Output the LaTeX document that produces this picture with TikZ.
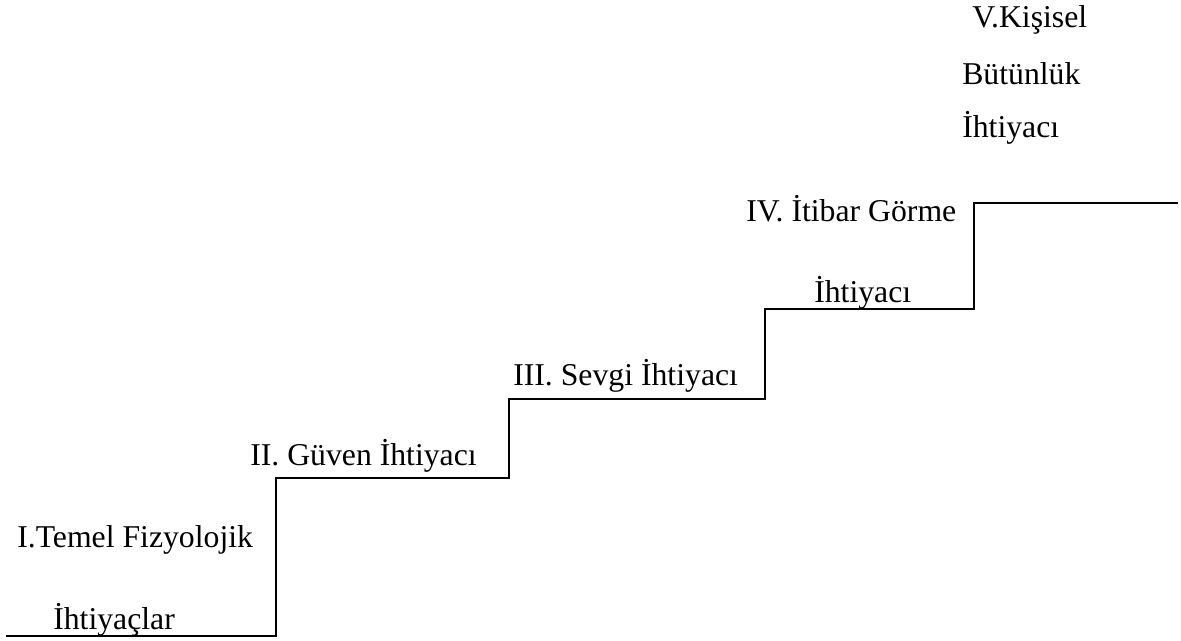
\documentclass[tikz,border=0pt]{standalone}
\usepackage{fontspec}
\setmainfont{Liberation Serif}
\begin{document}
\begin{tikzpicture}[x=0.75pt,y=-0.75pt,
  lbl/.style={anchor=base west,inner sep=0pt,font=\fontsize{23.8}{28}\selectfont},
  stair/.style={line width=1.5pt,line join=miter,line cap=rect}]
\useasboundingbox (0,0) rectangle (1181,641);
\coordinate (s0) at (7,636);
\coordinate (s1) at (276,636);
\coordinate (s2) at (276,478);
\coordinate (s3) at (509,478);
\coordinate (s4) at (509,399);
\coordinate (s5) at (765,399);
\coordinate (s6) at (765,309);
\coordinate (s7) at (974,309);
\coordinate (s8) at (974,203);
\coordinate (s9) at (1177,203);
\draw[stair] (s0) -- (s1) -- (s2) -- (s3) -- (s4) -- (s5) -- (s6) -- (s7) -- (s8) -- (s9);
\node[lbl] (t1a) at (17,547) {I.Temel Fizyolojik};
\node[lbl] (t1b) at (53,629) {İhtiyaçlar};
\node[lbl] (t2) at (250,465) {II. Güven İhtiyacı};
\node[lbl] (t3) at (513,386) {III. Sevgi İhtiyacı};
\node[lbl] (t4a) at (746,222) {IV. İtibar Görme};
\node[lbl] (t4b) at (814,303) {İhtiyacı};
\node[lbl] (t5a) at (972,28) {V.Kişisel};
\node[lbl] (t5b) at (962,85) {Bütünlük};
\node[lbl] (t5c) at (962,138) {İhtiyacı};
\end{tikzpicture}
\end{document}
